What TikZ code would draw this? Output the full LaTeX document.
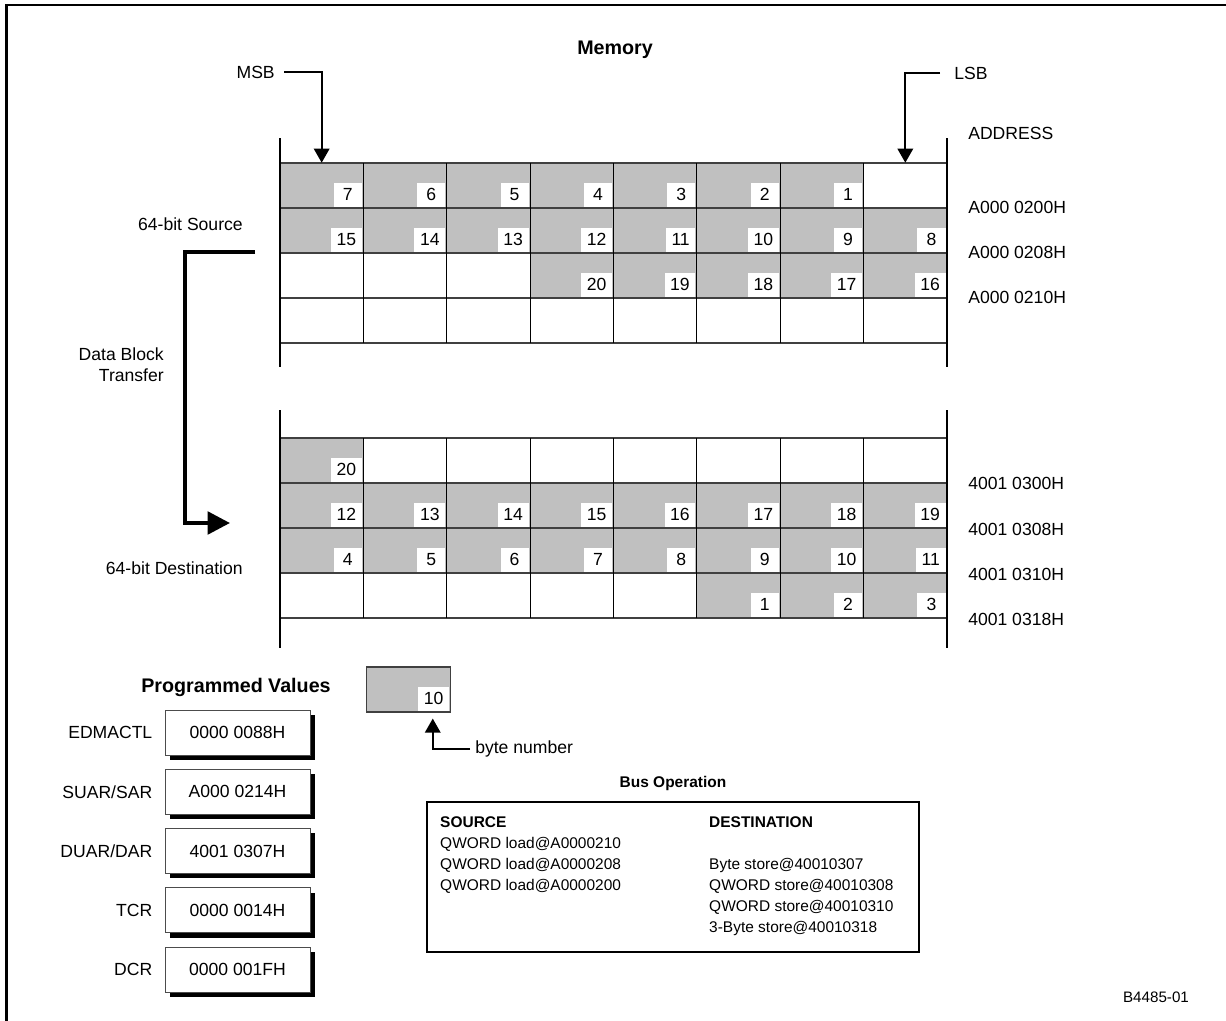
\documentclass[tikz,border=0pt]{standalone}
\usepackage{fontspec}
\setmainfont{Liberation Sans}
\usetikzlibrary{arrows.meta}
\usetikzlibrary{positioning}
\usetikzlibrary{shadows}
\definecolor{cellgray}{HTML}{C0C0C0}
\tikzstyle{cell}=[rectangle,fill=cellgray,minimum width=2.084cm,minimum height=1.125cm,inner sep=0pt]
\tikzstyle{num}=[rectangle,fill=white,anchor=south east,minimum width=20pt,minimum height=17pt,inner xsep=4pt,inner ysep=0pt,font=\fontsize{12.5}{15}\selectfont]
\tikzstyle{lbl}=[inner sep=0pt,font=\fontsize{12.5}{15}\selectfont]
\tikzstyle{ttl}=[inner sep=0pt,font=\fontsize{14}{17}\selectfont\bfseries]
\tikzstyle{bustxt}=[inner sep=0pt,align=left,font=\fontsize{11}{15}\selectfont]
\tikzstyle{bar}=[line width=2pt]
\tikzstyle{hline}=[draw=black!75,line width=0.8pt]
\tikzstyle{vline}=[draw=black,line width=0.8pt]
\tikzstyle{arr}=[-{Triangle[length=10pt,width=11pt]},line width=1.4pt]
\tikzstyle{bigarr}=[-{Triangle[length=16pt,width=16pt]},line width=3pt]
\tikzstyle{pvbox}=[draw=black!70,fill=white,line width=0.6pt,minimum width=3.625cm,minimum height=1.125cm,inner sep=0pt,font=\fontsize{12.5}{15}\selectfont,drop shadow={shadow xshift=3.5pt,shadow yshift=-3.5pt,opacity=1,fill=black}]

\begin{document}
\begin{tikzpicture}[x=0.025cm,y=-0.025cm]
  \useasboundingbox (0,0) rectangle (1226,1021);
  \draw[line width=1.5pt] (6.5,1021) -- (6.5,5) -- (1226,5);

  \node[ttl] (mem) at (615,50) {Memory};

  % source memory
  \foreach \row [count=\rw from 0] in {{7,6,5,4,3,2,1,0},{15,14,13,12,11,10,9,8},{0,0,0,20,19,18,17,16},{0,0,0,0,0,0,0,0}} {
    \foreach \v [count=\cl from 0] in \row {
      \ifnum\v>0 \def\cf{cellgray}\else\def\cf{white}\fi
      \node[cell,fill=\cf] (s\rw\cl) at ({280+(\cl+0.5)*83.375},{163+(\rw+0.5)*45}) {};
      \ifnum\v>0 \node[num] at ([shift={(-1.5,-1.5)}]s\rw\cl.south east) {\v}; \fi
    }
  }
  \foreach \k in {0,...,4} \draw[hline] (280,{163+\k*45}) -- (947,{163+\k*45});
  \foreach \k in {1,...,7} \draw[vline] ({280+\k*83.375},163) -- ({280+\k*83.375},343);
  \draw[bar] (280,138) -- (280,367);
  \draw[bar] (947,138) -- (947,367);

  % destination memory
  \foreach \row [count=\rw from 0] in {{20,0,0,0,0,0,0,0},{12,13,14,15,16,17,18,19},{4,5,6,7,8,9,10,11},{0,0,0,0,0,1,2,3}} {
    \foreach \v [count=\cl from 0] in \row {
      \ifnum\v>0 \def\cf{cellgray}\else\def\cf{white}\fi
      \node[cell,fill=\cf] (d\rw\cl) at ({280+(\cl+0.5)*83.375},{438+(\rw+0.5)*45}) {};
      \ifnum\v>0 \node[num] at ([shift={(-1.5,-1.5)}]d\rw\cl.south east) {\v}; \fi
    }
  }
  \foreach \k in {0,...,4} \draw[hline] (280,{438+\k*45}) -- (947,{438+\k*45});
  \foreach \k in {1,...,7} \draw[vline] ({280+\k*83.375},438) -- ({280+\k*83.375},618);
  \draw[bar] (280,410) -- (280,648);
  \draw[bar] (947,410) -- (947,648);

  % MSB / LSB
  \node[lbl,anchor=east] (msb) at (275,72) {MSB};
  \node[lbl,anchor=west] (lsb) at (954,73) {LSB};
  \draw[arr] ([shift={(9,0)}]msb.east) -| (s00.north);
  \draw[arr] ([shift={(-14,0)}]lsb.west) -| (s07.north);

  % addresses
  \node[lbl,anchor=west] (addr) at (968,133) {ADDRESS};
  \node[lbl,anchor=west] (sa0) at (968,207) {A000 0200H};
  \node[lbl,anchor=west] (sa1) at (968,252) {A000 0208H};
  \node[lbl,anchor=west] (sa2) at (968,297) {A000 0210H};
  \node[lbl,anchor=west] (da0) at (968,483) {4001 0300H};
  \node[lbl,anchor=west] (da1) at (968,529) {4001 0308H};
  \node[lbl,anchor=west] (da2) at (968,574) {4001 0310H};
  \node[lbl,anchor=west] (da3) at (968,619) {4001 0318H};

  % transfer
  \node[lbl,anchor=east] (srclbl) at (243,224) {64-bit Source};
  \node[lbl,anchor=east,align=right] (dbt) at (164,365) {Data Block\\Transfer};
  \node[lbl,anchor=east] (dstlbl) at (243,568) {64-bit Destination};
  \coordinate (tfrom) at (255,252);
  \coordinate (tto) at (230,523);
  \draw[bigarr] (tfrom) -- (185,252) -- (185,523) -- (tto);

  % programmed values
  \node[ttl] (pvttl) at (236,687) {Programmed Values};
  \foreach \nm/\val [count=\k from 1] in {EDMACTL/{0000 0088H},{SUAR/SAR}/{A000 0214H},{DUAR/DAR}/{4001 0307H},TCR/{0000 0014H},DCR/{0000 001FH}} {
    \node[pvbox] (pv\k) at (237.5,{732.5+(\k-1)*59.25}) {\val};
    \node[lbl,left=0.3cm of pv\k] (pvl\k) {\nm};
  }

  % byte number key
  \node[cell,draw=black!75,line width=0.8pt] (key) at (408.5,689.5) {};
  \node[num] at ([shift={(-1.5,-1.5)}]key.south east) {10};
  \node[lbl,anchor=west] (bytenum) at (475,749) {byte number};
  \draw[arr] ([shift={(-5,0)}]bytenum.west) -| ([shift={(-18,6)}]key.south east);

  % bus operation
  \node[inner sep=0pt,font=\fontsize{11}{13}\selectfont\bfseries] (busttl) at (673,783) {Bus Operation};
  \node[draw,line width=1.4pt,minimum width=12.3cm,minimum height=3.75cm,inner sep=0pt] (bus) at (673,877) {};
  \node[bustxt,anchor=north west] (srcops) at ([shift={(14,15)}]bus.north west)
    {\textbf{SOURCE}\\QWORD load@A0000210\\QWORD load@A0000208\\QWORD load@A0000200};
  \node[bustxt,anchor=north west] (dstops) at ([shift={(283,15)}]bus.north west)
    {\textbf{DESTINATION}\\\mbox{}\\Byte store@40010307\\QWORD store@40010308\\QWORD store@40010310\\3-Byte store@40010318};

  \node[inner sep=0pt,font=\fontsize{10.8}{13}\selectfont] (fig) at (1156,997) {B4485-01};
\end{tikzpicture}
\end{document}
